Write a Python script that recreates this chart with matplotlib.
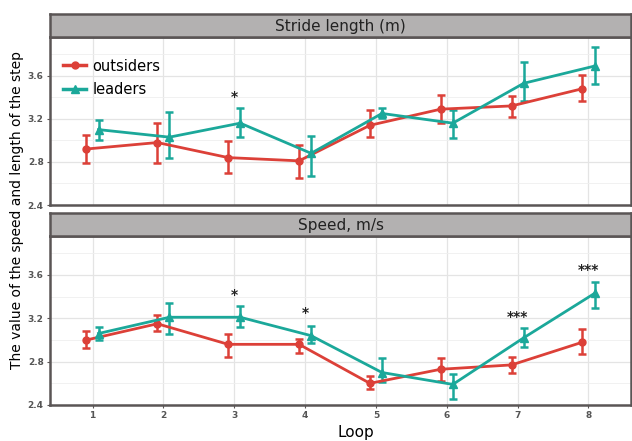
import matplotlib.pyplot as plt
from matplotlib.lines import Line2D
import numpy as np

loops = np.arange(1, 9)

# stride length (m)
sl_out = [2.92, 2.98, 2.84, 2.81, 3.14, 3.29, 3.32, 3.48]
sl_out_lo = [2.79, 2.79, 2.70, 2.65, 3.03, 3.16, 3.22, 3.37]
sl_out_hi = [3.05, 3.16, 2.99, 2.96, 3.28, 3.42, 3.41, 3.61]
sl_lead = [3.10, 3.03, 3.16, 2.88, 3.25, 3.16, 3.53, 3.69]
sl_lead_lo = [3.00, 2.84, 3.03, 2.67, 3.21, 3.02, 3.37, 3.52]
sl_lead_hi = [3.19, 3.26, 3.30, 3.04, 3.30, 3.28, 3.73, 3.87]

# speed, m/s
sp_out = [3.00, 3.15, 2.96, 2.96, 2.60, 2.73, 2.77, 2.98]
sp_out_lo = [2.93, 3.08, 2.84, 2.88, 2.55, 2.62, 2.70, 2.87]
sp_out_hi = [3.08, 3.23, 3.06, 3.01, 2.67, 2.83, 2.84, 3.10]
sp_lead = [3.06, 3.21, 3.21, 3.04, 2.70, 2.59, 3.02, 3.43]
sp_lead_lo = [3.00, 3.06, 3.12, 2.97, 2.61, 2.46, 2.94, 3.30]
sp_lead_hi = [3.12, 3.34, 3.31, 3.13, 2.83, 2.69, 3.11, 3.54]

# significance marks
sl_sig = [(3, 3.40, '*')]
sp_sig = [(3, 3.42, '*'), (4, 3.25, '*'), (7, 3.21, '***'), (8, 3.65, '***')]

red = '#dc4038'
teal = '#1ba89a'
border = '#5a5555'

fig = plt.figure(figsize=(6.32, 4.41), dpi=100)
W, H = 632, 441

def px_axes(x0, y0, x1, y1):
    return fig.add_axes([x0 / W, 1 - y1 / H, (x1 - x0) / W, (y1 - y0) / H])

def panel(ax, title, out, olo, ohi, lead, llo, lhi, sig, strip_y, show_x):
    d = 0.085
    ax.set_xlim(0.4, 8.6)
    ax.set_ylim(2.4, 3.96)
    ax.set_yticks([2.4, 2.8, 3.2, 3.6])
    ax.set_yticks([2.6, 3.0, 3.4, 3.8], minor=True)
    ax.set_xticks(loops)
    ax.grid(which='major', color='#e4e4e4', lw=0.9)
    ax.grid(which='minor', axis='y', color='#efefef', lw=0.6)
    ax.set_axisbelow(True)
    for s in ax.spines.values():
        s.set_color(border)
        s.set_linewidth(1.8)
    ax.tick_params(which='minor', left=False)
    ax.tick_params(axis='both', length=2.5, color=border, labelsize=6.5,
                   labelcolor='#555555', pad=2)
    for lab in ax.get_yticklabels() + ax.get_xticklabels():
        lab.set_fontweight('bold')
    if not show_x:
        ax.tick_params(axis='x', labelbottom=False, length=0)

    o = np.array(out)
    l = np.array(lead)
    ax.errorbar(loops - d, o, yerr=[o - np.array(olo), np.array(ohi) - o],
                color=red, lw=2, marker='o', ms=5, capsize=3, elinewidth=1.8,
                capthick=1.8)
    ax.errorbar(loops + d, l, yerr=[l - np.array(llo), np.array(lhi) - l],
                color=teal, lw=2, marker='^', ms=5.5, capsize=3, elinewidth=1.8,
                capthick=1.8)
    for x, y, t in sig:
        ax.text(x, y, t, ha='center', va='center', fontsize=10, fontweight='bold',
                color='#222222')

    st = px_axes(50, strip_y[0], 631, strip_y[1])
    st.set_facecolor('#b3b1b1')
    st.set_xticks([])
    st.set_yticks([])
    for s in st.spines.values():
        s.set_color(border)
        s.set_linewidth(1.8)
    st.text(0.5, 0.45, title, ha='center', va='center', fontsize=11,
            color='#222222', transform=st.transAxes)

top = px_axes(50, 37, 631, 205)
panel(top, 'Stride length (m)', sl_out, sl_out_lo, sl_out_hi,
      sl_lead, sl_lead_lo, sl_lead_hi, sl_sig, (14, 37), False)
handles = [Line2D([], [], color=red, lw=2.5, marker='o', ms=5),
           Line2D([], [], color=teal, lw=2.5, marker='^', ms=5.5)]
top.legend(handles, ['outsiders', 'leaders'], loc='upper left',
           bbox_to_anchor=(0.0, 0.95), frameon=False, fontsize=10.5,
           handlelength=1.6, handletextpad=0.4, labelspacing=0.6)

bot = px_axes(50, 236, 631, 405)
panel(bot, 'Speed, m/s', sp_out, sp_out_lo, sp_out_hi,
      sp_lead, sp_lead_lo, sp_lead_hi, sp_sig, (213, 236), True)

fig.text(356 / W, 1 - 432 / H, 'Loop', ha='center', va='center', fontsize=11)
fig.text(17 / W, 1 - 210 / H, 'The value of the speed and length of the step',
         ha='center', va='center', rotation=90, fontsize=10)

fig.savefig('out.png', dpi=100)
